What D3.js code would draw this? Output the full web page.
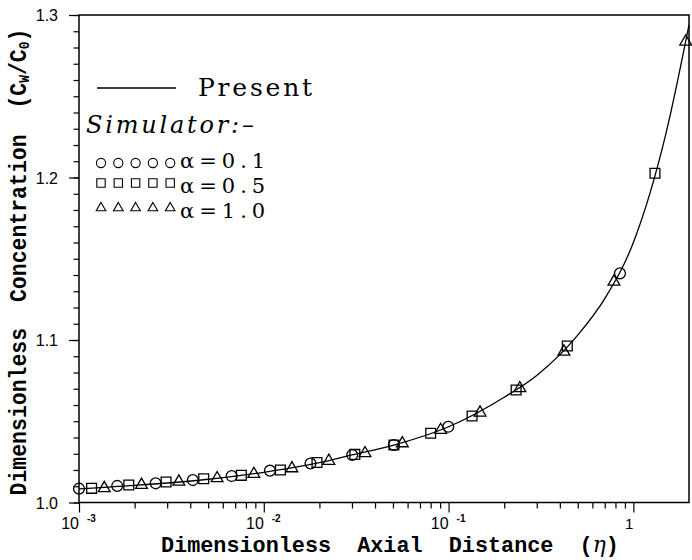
<!DOCTYPE html>
<html>
<head>
<meta charset="utf-8">
<script src="https://cdn.jsdelivr.net/npm/d3@7"></script>
<style>
  body { margin: 0; background: #fff; }
  svg { display: block; }
</style>
</head>
<body>
<div id="chart"></div>
<script>
// "Present" solution curve (eta, Cw/C0)
const curveEta = [0.001, 0.002, 0.005, 0.01, 0.02, 0.03, 0.05, 0.1, 0.2, 0.3, 0.5, 0.7, 1.0, 1.5, 2.0];
const curveC   = [1.0084, 1.0105, 1.0143, 1.0186, 1.0245, 1.0293, 1.0352, 1.0466, 1.0648, 1.0782, 1.1030, 1.1255, 1.1600, 1.2270, 1.2940];

// Simulator points, alpha = 0.1 (circles)
const circleEta = [0.001, 0.00161, 0.0026, 0.00413, 0.0067, 0.0108, 0.0179, 0.0301, 0.0506, 0.0996, 0.846];
const circleC   = [1.0085, 1.0102, 1.0118, 1.0138, 1.0163, 1.0196, 1.0240, 1.0292, 1.0354, 1.0466, 1.1410];

// alpha = 0.5 (squares)
const squareEta = [0.00117, 0.00186, 0.00296, 0.00473, 0.00756, 0.0123, 0.0194, 0.0311, 0.0506, 0.080, 0.134, 0.232, 0.439, 1.309];
const squareC   = [1.0087, 1.0108, 1.0126, 1.0146, 1.0167, 1.0200, 1.0246, 1.0296, 1.0354, 1.0426, 1.0532, 1.0692, 1.0963, 1.2026];

// alpha = 1.0 (triangles)
const triEta = [0.00137, 0.00218, 0.00347, 0.00559, 0.00884, 0.0142, 0.0225, 0.0353, 0.0562, 0.0906, 0.148, 0.243, 0.421, 0.785, 1.92];
const triC   = [1.0088, 1.0108, 1.0128, 1.0149, 1.0175, 1.0210, 1.0256, 1.0303, 1.0364, 1.0446, 1.0553, 1.0703, 1.0928, 1.1359, 1.2836];

// axes
const xDecades = [0.001, 0.01, 0.1, 1];
const xDecadeExp = ["-3", "-2", "-1", ""];
const yMajor = [1.0, 1.1, 1.2, 1.3];
const yLabels = ["1.0", "1.1", "1.2", "1.3"];

// legend
const seriesNames = ["circle", "square", "triangle"];
const seriesLabels = ["\u03b1=0.1", "\u03b1=0.5", "\u03b1=1.0"];


class ConcChart {

  constructor(_parentElement, _width, _height) {
    this.parentElement = _parentElement;
    this.svgWidth = _width;
    this.svgHeight = _height;
    this.initializeChart();
  }

  initializeChart() {
    var vis = this;

    vis.margin = {top: 15, right: 3, bottom: 57.5, left: 79};
    vis.width = vis.svgWidth - vis.margin.left - vis.margin.right;
    vis.height = vis.svgHeight - vis.margin.top - vis.margin.bottom;

    vis.svg = d3.select(vis.parentElement)
      .append("svg")
      .attr("width", vis.svgWidth)
      .attr("height", vis.svgHeight);

    vis.g = vis.svg.append("g")
      .attr("transform", "translate(" + vis.margin.left + "," + vis.margin.top + ")");

    vis.xScale = d3.scaleLog().domain([0.001, 2]).range([0, vis.width]);
    vis.yScale = d3.scaleLinear().domain([1.0, 1.3]).range([vis.height, 0]);

    vis.symbols = {
      circle: d3.symbolCircle,
      square: d3.symbolSquare,
      triangle: d3.symbolTriangle
    };

    vis.drawAxes();
    vis.drawData();
    vis.drawLegend();
  }

  drawAxes() {
    var vis = this;

    // minor ticks on x: 2..9 in each decade
    var xMinor = [];
    xDecades.slice(0, 3).forEach(d => {
      for (var k = 2; k <= 9; k++) xMinor.push(d * k);
    });

    var xMinorAxis = vis.g.append("g")
      .attr("transform", "translate(0," + vis.height + ")")
      .call(d3.axisBottom(vis.xScale).tickValues(xMinor).tickSize(6).tickFormat(""));
    var xMajorAxis = vis.g.append("g")
      .attr("transform", "translate(0," + vis.height + ")")
      .call(d3.axisBottom(vis.xScale).tickValues(xDecades).tickSize(10).tickFormat(""));

    // minor ticks on y every 0.01
    var yMinor = d3.range(0, 31).map(i => 1.0 + i * 0.01);
    var yMinorAxis = vis.g.append("g")
      .call(d3.axisLeft(vis.yScale).tickValues(yMinor).tickSize(5.5).tickFormat(""));
    var yMajorAxis = vis.g.append("g")
      .call(d3.axisLeft(vis.yScale).tickValues(yMajor).tickSize(10).tickFormat(""));

    [xMinorAxis, xMajorAxis, yMinorAxis, yMajorAxis].forEach(a => {
      a.select(".domain").remove();
      a.selectAll("line").attr("stroke", "#000").attr("stroke-width", 1.2);
    });

    // frame
    vis.g.append("rect")
      .attr("width", vis.width)
      .attr("height", vis.height)
      .attr("fill", "none")
      .attr("stroke", "#000")
      .attr("stroke-width", 1.5);

    // y tick labels
    vis.g.selectAll(".ylab").data(yMajor).enter().append("text")
      .attr("class", "ylab")
      .attr("x", -21)
      .attr("y", d => vis.yScale(d))
      .attr("dy", "0.38em")
      .attr("text-anchor", "end")
      .style("font-family", "'Liberation Sans', Arial, sans-serif")
      .style("font-size", "16px")
      .text((d, i) => yLabels[i]);

    // x tick labels: 10 with superscript exponent
    xDecades.forEach((d, i) => {
      var x = vis.xScale(d);
      vis.g.append("text")
        .attr("x", x)
        .attr("y", vis.height + 26.5)
        .attr("text-anchor", "end")
        .style("font-family", "'Liberation Sans', Arial, sans-serif")
        .style("font-size", xDecadeExp[i] === "" ? "15px" : "16px")
        .text(xDecadeExp[i] === "" ? "1" : "10");
      if (xDecadeExp[i] !== "") {
        vis.g.append("text")
          .attr("x", x + 8)
          .attr("y", vis.height + 19)
          .style("font-family", "'Liberation Sans', Arial, sans-serif")
          .style("font-weight", "bold")
          .style("font-size", "10px")
          .text(xDecadeExp[i]);
      }
    });

    // axis titles
    var xt = vis.svg.append("text")
      .attr("x", 161)
      .attr("y", 552)
      .style("white-space", "pre")
      .style("font-family", "'Liberation Mono', 'Courier New', monospace")
      .style("font-weight", "bold")
      .style("font-size", "21.8px");
    xt.append("tspan").text("Dimensionless  Axial  Distance  (");
    xt.append("tspan").style("font-family", "'DejaVu Serif', serif").style("font-style", "italic")
      .style("font-weight", "normal").text("\u03b7");
    xt.append("tspan").text(")");

    var yt = vis.svg.append("text")
      .attr("transform", "translate(26,262) rotate(-90) scale(1,1.15)")
      .attr("text-anchor", "middle")
      .style("white-space", "pre")
      .style("font-family", "'Liberation Mono', 'Courier New', monospace")
      .style("font-weight", "bold")
      .style("font-size", "21.5px");
    yt.append("tspan").text("Dimensionless  Concentration  (C");
    yt.append("tspan").attr("dy", 3).style("font-size", "13px").text("W");
    yt.append("tspan").attr("dy", -3).text("/C");
    yt.append("tspan").attr("dy", 3).style("font-size", "13px").text("0");
    yt.append("tspan").attr("dy", -3).text(")");
  }

  drawData() {
    var vis = this;

    vis.curveData = curveEta.map((e, i) => ({eta: e, c: curveC[i]}));

    vis.line = d3.line()
      .x(d => vis.xScale(d.eta))
      .y(d => vis.yScale(d.c))
      .curve(d3.curveMonotoneX);

    vis.g.append("path")
      .datum(vis.curveData)
      .attr("d", vis.line)
      .attr("fill", "none")
      .attr("stroke", "#000")
      .attr("stroke-width", 1.3);

    var sets = [
      {shape: "circle", size: 92, eta: circleEta, c: circleC},
      {shape: "square", size: 96, eta: squareEta, c: squareC},
      {shape: "triangle", size: 60, eta: triEta, c: triC}
    ];

    sets.forEach(s => {
      var pts = s.eta.map((e, i) => ({eta: e, c: s.c[i]}));
      vis.g.selectAll(".pt-" + s.shape).data(pts).enter().append("path")
        .attr("class", "pt-" + s.shape)
        .attr("transform", d => "translate(" + vis.xScale(d.eta) + "," + vis.yScale(d.c) + ")")
        .attr("d", d3.symbol().type(vis.symbols[s.shape]).size(s.size))
        .attr("fill", "none")
        .attr("stroke", "#000")
        .attr("stroke-width", 1.3);
    });
  }

  drawLegend() {
    var vis = this;
    var lg = vis.svg.append("g");

    lg.append("line")
      .attr("x1", 97).attr("x2", 176)
      .attr("y1", 88).attr("y2", 88)
      .attr("stroke", "#000")
      .attr("stroke-width", 1.3);

    lg.append("text")
      .attr("x", 198).attr("y", 96)
      .style("font-family", "'DejaVu Serif', serif")
      .style("font-size", "25px")
      .style("letter-spacing", "2.8px")
      .text("Present");

    lg.append("text")
      .attr("x", 86).attr("y", 133)
      .style("font-family", "'DejaVu Serif', serif")
      .style("font-style", "italic")
      .style("font-size", "24px")
      .style("letter-spacing", "2.8px")
      .text("Simulator:\u2013");

    var rowY = [163, 183, 208];
    var textY = [167.5, 193, 218];
    var sizes = {circle: 66, square: 70, triangle: 40};

    seriesNames.forEach((s, i) => {
      d3.range(5).forEach(k => {
        lg.append("path")
          .attr("transform", "translate(" + (101 + k * 17.3) + "," + rowY[i] + ")")
          .attr("d", d3.symbol().type(vis.symbols[s]).size(sizes[s]))
          .attr("fill", "none")
          .attr("stroke", "#000")
          .attr("stroke-width", 1.1);
      });
      lg.append("text")
        .attr("x", 180).attr("y", textY[i])
        .style("font-family", "'DejaVu Serif', serif")
        .style("font-size", "21px")
        .style("letter-spacing", "5px")
        .text(seriesLabels[i]);
    });
  }
}

new ConcChart("#chart", 692, 560);
</script>
</body>
</html>
